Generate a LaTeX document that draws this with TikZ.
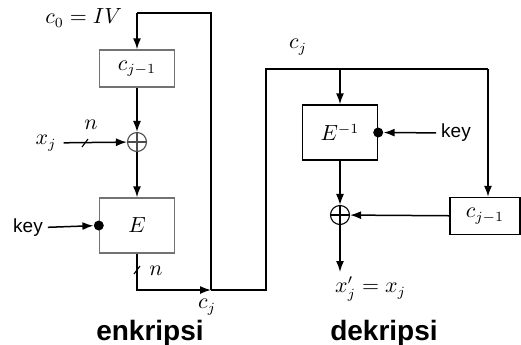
\documentclass[tikz,border=0pt]{standalone}
\usepackage{fontspec}
\newfontfamily\labelsans{Liberation Sans}
\usetikzlibrary{arrows.meta}

\tikzset{
	>={Latex[length=5.5pt,width=4pt]},
	wire/.style={line width=0.75pt},
	blocksmall/.style={draw,line width=0.7pt,minimum width=37.5pt,minimum height=18.5pt,inner sep=0pt},
	blocktall/.style={draw,line width=0.7pt,minimum width=37.5pt,minimum height=27.5pt,inner sep=0pt},
	xor/.style={circle,draw,line width=0.55pt,minimum size=9.5pt,inner sep=0pt,
		path picture={\draw[line width=0.55pt] (path picture bounding box.north) -- (path picture bounding box.south)
			(path picture bounding box.west) -- (path picture bounding box.east);}},
	keydot/.style={circle,fill,minimum size=5pt,inner sep=0pt},
	keytext/.style={font=\labelsans\fontsize{9.5}{11}\selectfont},
	title/.style={font=\labelsans\bfseries\fontsize{14}{16}\selectfont,anchor=base}
}

\begin{document}
\begin{tikzpicture}[x=0.5pt,y=-0.5pt,font=\fontsize{10.5}{12}\selectfont]
	\useasboundingbox (0,0) rectangle (521,344);

	% enkripsi
	\coordinate (topA) at (137,13);
	\coordinate (topB) at (211,13);
	\node[blocksmall,draw=black!55] (cprevA) at (137,68.5) {$c_{j-1}$};
	\node[xor,draw=black!70] (xorA) at (137,142) {};
	\node (xj) at (46,143) {$x_j$};
	\node[blocktall,draw=black!55] (enc) at (137,225.5) {$E$};
	\node[keytext] (keyA) at (28,228) {key};
	\node[keydot] (dotA) at (enc.west) {};
	\coordinate (outA) at (137,290);
	\coordinate (cjA) at (211,290);

	\draw[wire] (cjA) -- (topB) -- (topA);
	\draw[wire,->] (topA) -- (cprevA);
	\draw[wire,->] (cprevA) -- (xorA);
	\draw[wire,->] (xj) -- (xorA);
	\draw[wire,->] (xorA) -- (enc);
	\draw[wire,->,shorten <=-1pt] (keyA) -- (dotA);
	\draw[wire,->] (enc) -- (outA) -- (cjA);

	% slash marks for n bits
	\coordinate (slashA) at (85,143);
	\coordinate (slashB) at (137,270);
	\draw[line width=0.55pt] (slashA) ++(-3,4) -- ++(6,-8);
	\draw[line width=0.55pt] (slashB) ++(-3,4) -- ++(6,-8);

	\node[anchor=east] (ivlabel) at (129,18) {$c_0 = IV$};
	\node (nA) at (91,125) {$n$};
	\node (nB) at (156,271) {$n$};
	\node (cjlabelA) at (207,307) {$c_j$};

	% dekripsi
	\coordinate (turn) at (266,290);
	\coordinate (topC) at (266,69);
	\coordinate (split) at (340,69);
	\coordinate (topD) at (488,69);
	\node[blocktall] (dec) at (340,132.5) {$E^{-1}$};
	\node[keytext] (keyB) at (456,133) {key};
	\node[keydot] (dotB) at (dec.east) {};
	\node[xor] (xorB) at (340,215) {};
	\node[blocksmall,minimum width=35pt] (cprevB) at (485,216) {$c_{j-1}$};
	\coordinate (xout) at (340,272);

	\draw[wire] (cjA) -- (turn) -- (topC) -- (topD);
	\draw[wire,->] (split) -- (dec);
	\draw[wire,->] (topD) -- (topD |- cprevB.north);
	\draw[wire,->,shorten <=-1pt] (keyB) -- (dotB);
	\draw[wire,->] (dec) -- (xorB);
	\draw[wire,->] (cprevB) -- (xorB);
	\draw[wire,->] (xorB) -- (xout);

	\node (cjlabelB) at (298,47) {$c_j$};
	\node[anchor=west] (xres) at (328,289) {$x'_j = x_j$};

	\node[title] (encT) at (150,340) {enkripsi};
	\node[title] (decT) at (384,340) {dekripsi};
\end{tikzpicture}
\end{document}
